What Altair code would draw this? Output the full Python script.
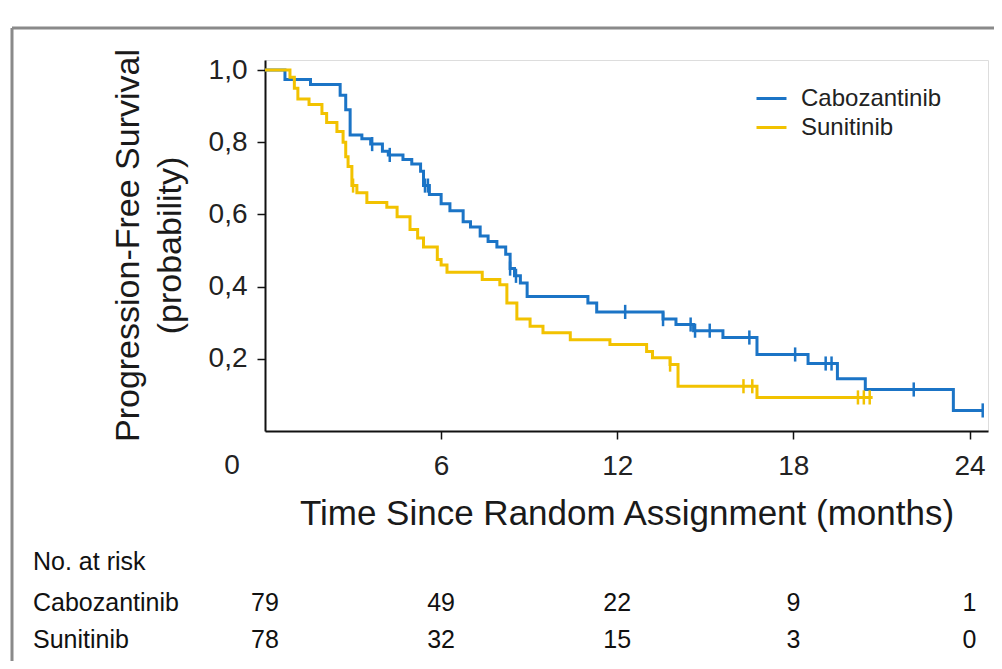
import altair as alt
import pandas as pd
import numpy as np

# ---- data ----
groups = ["Cabozantinib", "Sunitinib"]
colors = ["#1b74c6", "#f2c200"]

cabo_t = [0, 0.68, 1.55, 2.56, 2.75, 2.9, 3.3, 3.6, 4.0, 4.2, 4.7, 5.0, 5.3, 5.4, 5.6, 6.0, 6.3,
          6.75, 7.0, 7.33, 7.6, 7.9, 8.2, 8.35, 8.5, 8.7, 8.93, 11.0, 11.3, 13.56, 14.0, 14.6,
          15.6, 16.76, 18.5, 19.5, 20.45, 23.45, 24.46]
cabo_s = [1.0, 0.974, 0.96, 0.93, 0.89, 0.82, 0.81, 0.795, 0.775, 0.765, 0.752, 0.74, 0.72, 0.68,
          0.655, 0.63, 0.61, 0.58, 0.565, 0.54, 0.525, 0.51, 0.49, 0.45, 0.43, 0.41, 0.373, 0.355,
          0.33, 0.31, 0.295, 0.278, 0.259, 0.212, 0.187, 0.145, 0.115, 0.057, 0.057]
cabo_cens = [3.65, 4.25, 5.45, 5.55, 8.35, 8.55, 12.27, 13.56, 14.5, 14.65, 15.15, 16.5, 18.06,
             19.1, 19.3, 22.1, 24.45]

sun_t = [0, 0.85, 1.0, 1.12, 1.5, 1.94, 2.1, 2.45, 2.66, 2.75, 2.83, 2.96, 3.13, 3.47, 4.15, 4.5,
         4.94, 5.2, 5.4, 5.87, 6.0, 6.2, 7.4, 8.0, 8.24, 8.58, 9.03, 9.47, 10.4, 11.75, 13.0, 13.2,
         13.8, 14.07, 16.76, 20.7]
sun_s = [1.0, 0.98, 0.95, 0.92, 0.905, 0.88, 0.855, 0.83, 0.80, 0.76, 0.733, 0.68, 0.66, 0.633,
         0.62, 0.594, 0.558, 0.535, 0.51, 0.475, 0.46, 0.44, 0.42, 0.405, 0.355, 0.31, 0.29, 0.272,
         0.253, 0.24, 0.22, 0.203, 0.184, 0.124, 0.093, 0.093]
sun_cens = [3.0, 13.8, 16.3, 16.6, 20.2, 20.4, 20.6]

risk_times = [0, 6, 12, 18, 24]
cabo_risk = [79, 49, 22, 9, 1]
sun_risk = [78, 32, 15, 3, 0]

x_ticks = [6, 12, 18, 24]
y_ticks = [0.2, 0.4, 0.6, 0.8, 1.0]

# ---- tables ----
curve = pd.concat([
    pd.DataFrame({"t": cabo_t, "s": cabo_s, "g": groups[0]}),
    pd.DataFrame({"t": sun_t, "s": sun_s, "g": groups[1]}),
])


def step_val(ts, ss, c):
    i = np.searchsorted(np.array(ts), c, side="right") - 1
    return ss[i]


cens = pd.concat([
    pd.DataFrame({"t": cabo_cens, "s": [step_val(cabo_t, cabo_s, c) for c in cabo_cens], "g": groups[0]}),
    pd.DataFrame({"t": sun_cens, "s": [step_val(sun_t, sun_s, c) for c in sun_cens], "g": groups[1]}),
])

risk = pd.DataFrame({"t": risk_times, "cabo": cabo_risk, "sun": sun_risk})

FONT = "Liberation Sans, Arial, sans-serif"

xscale = alt.Scale(domain=[0, 24.63], nice=False, zero=False)
yscale = alt.Scale(domain=[0, 1.028], nice=False)
cscale = alt.Scale(domain=groups, range=colors)

x_enc = alt.X("t:Q", scale=xscale, axis=alt.Axis(
    values=x_ticks, title="Time Since Random Assignment (months)", grid=False,
    labelFontSize=28, labelFont=FONT, labelPadding=13, tickSize=8, tickWidth=1.5,
    tickColor="#111", domainColor="#111", domainWidth=2, labelColor="#222",
    titleFont=FONT, titleFontSize=35, titleFontWeight="normal", titleColor="#1a1a1a",
    titleBaseline="middle", titleY=82, titleX=361.5))
y_enc = alt.Y("s:Q", scale=yscale, axis=alt.Axis(
    values=y_ticks, labelExpr="replace(format(datum.value, '.1f'), '.', ',')",
    title=["Progression-Free Survival", "(probability)"], grid=False,
    labelFontSize=28, labelFont=FONT, labelPadding=10, tickSize=8, tickWidth=1.5,
    tickColor="#111", domainColor="#111", domainWidth=2, labelColor="#222",
    titleFont=FONT, titleFontSize=34, titleFontWeight="normal", titleColor="#1a1a1a",
    titleAngle=270, titleAlign="center", titleBaseline="middle", titleLineHeight=42,
    titleX=-137, titleY=185))

lines = alt.Chart(curve).mark_line(interpolate="step-after", strokeWidth=3).encode(
    x=x_enc, y=y_enc,
    color=alt.Color("g:N", scale=cscale, legend=alt.Legend(
        title=None, orient="none", legendX=490, legendY=22, symbolType="stroke",
        symbolSize=900, symbolStrokeWidth=3, labelFontSize=24, labelFont=FONT,
        labelColor="#222", labelOffset=13, rowPadding=0)),
    detail="g:N",
)

ticks = alt.Chart(cens).mark_point(shape="M0,-1L0,1", size=200, strokeWidth=2.5, filled=False, opacity=1).encode(
    x=alt.X("t:Q", scale=xscale),
    y=alt.Y("s:Q", scale=yscale),
    stroke=alt.Stroke("g:N", scale=cscale, legend=None),
)

zero_lbl = alt.Chart(pd.DataFrame({"t": [0], "lab": ["0"]})).mark_text(
    fontSize=28, font=FONT, color="#222", dx=-33, baseline="middle").encode(
    x=alt.X("t:Q", scale=xscale), y=alt.value(406), text="lab:N")

risk_cabo = alt.Chart(risk).mark_text(fontSize=25, font=FONT, color="#111", baseline="middle").encode(
    x=alt.X("t:Q", scale=xscale), y=alt.value(543), text="cabo:Q")
risk_sun = alt.Chart(risk).mark_text(fontSize=25, font=FONT, color="#111", baseline="middle").encode(
    x=alt.X("t:Q", scale=xscale), y=alt.value(580), text="sun:Q")

row_labels = pd.DataFrame({"lab": ["No. at risk", "Cabozantinib", "Sunitinib"], "yy": [502, 543, 580]})
rows = alt.Chart(row_labels).mark_text(fontSize=25, font=FONT, color="#111", align="left",
                                      baseline="middle").encode(
    x=alt.value(-232), y=alt.Y("yy:Q", scale=None), text="lab:N")

frame_df = pd.DataFrame({"a": [0]})
frame_left = alt.Chart(frame_df).mark_rule(color="#8a8a8a", strokeWidth=3).encode(
    x=alt.value(-253), y=alt.value(-32), y2=alt.value(610))
frame_top = alt.Chart(frame_df).mark_rule(color="#8a8a8a", strokeWidth=3).encode(
    x=alt.value(-253), x2=alt.value(740), y=alt.value(-32))

chart = alt.layer(frame_left, frame_top, lines, ticks, zero_lbl, risk_cabo, risk_sun, rows).properties(
    width=723, height=371,
    autosize=alt.AutoSizeParams(type="none"),
    padding={"left": 257, "top": 52, "right": 6, "bottom": 230},
).configure_view(stroke=None).configure(background="white")

chart.save("out.html", embed_options={"renderer": "svg", "actions": False})
